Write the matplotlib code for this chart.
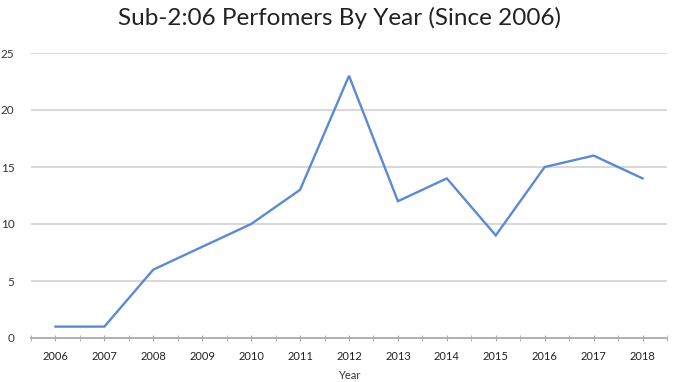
import numpy as np
import matplotlib.pyplot as plt

years = ["2006", "2007", "2008", "2009", "2010", "2011", "2012",
         "2013", "2014", "2015", "2016", "2017", "2018"]
performers = [1, 1, 6, 8, 10, 13, 23, 12, 14, 9, 15, 16, 14]
yticks = [0, 5, 10, 15, 20, 25]

plt.rcParams['font.family'] = ['Lato', 'DejaVu Sans']

fig = plt.figure(figsize=(6.8, 3.82), dpi=100)
ax = fig.add_axes([31/680, 44/382, 636/680, 285/382])

x = np.arange(len(years))
ax.plot(x, performers, color="#5b8ad4", lw=1.7, solid_joinstyle="miter")

ax.set_xlim(-0.5, len(years) - 0.5)
ax.set_ylim(0, 25)
ax.set_yticks(yticks)
ax.set_yticklabels([str(v) for v in yticks], fontsize=8.5, color="#333333")
for v in yticks[1:]:
    ax.axhline(v, color="#d9d9d9", lw=1.5, zorder=0)

# category ticks between categories, plus small marks at centers
ax.set_xticks(x)
ax.set_xticklabels(years, fontsize=8, color="#222222")
ax.set_xticks(np.arange(-0.5, len(years), 1.0), minor=True)
ax.tick_params(axis="x", which="major", length=4, direction="inout",
               color="#aaaaaa", pad=7)
ax.tick_params(axis="x", which="minor", length=4, direction="inout",
               color="#aaaaaa")
ax.tick_params(axis="y", length=0, pad=12)

for s in ["top", "right", "left"]:
    ax.spines[s].set_visible(False)
ax.spines["bottom"].set_color("#aaaaaa")
ax.spines["bottom"].set_linewidth(1.3)

ax.set_xlabel("Year", fontsize=8, color="#333333", labelpad=6)
fig.text(0.5, 0.952, "Sub-2:06 Perfomers By Year (Since 2006)",
         ha="center", va="center", fontsize=17.5, color="#222222")

fig.savefig("out.png", dpi=100)
